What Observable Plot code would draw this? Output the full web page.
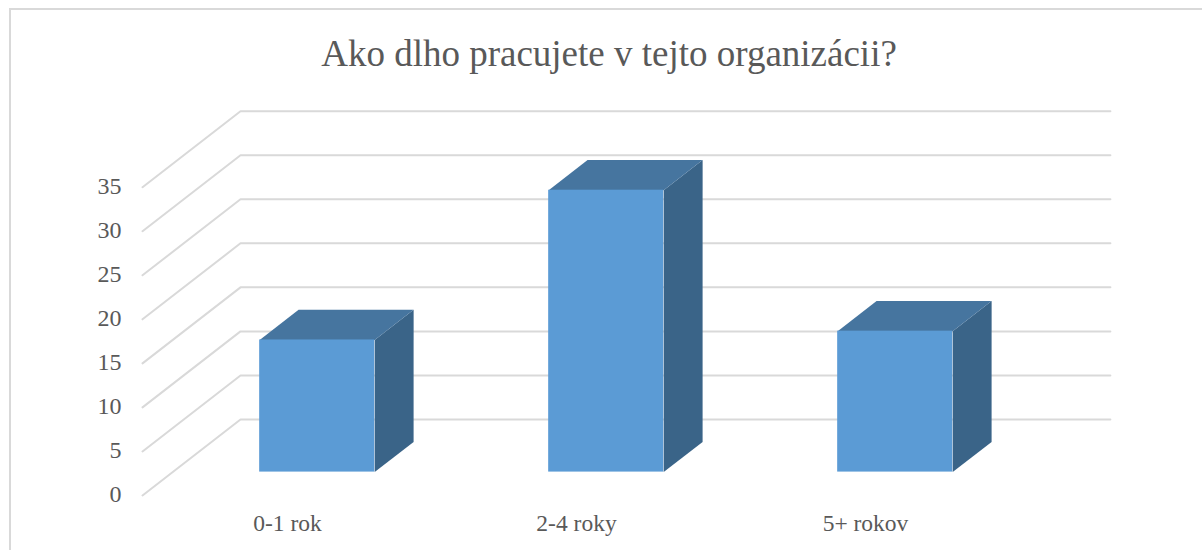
<!DOCTYPE html>
<html>
<head>
<meta charset="utf-8">
<script src="https://cdn.jsdelivr.net/npm/d3@7"></script>
<script src="https://cdn.jsdelivr.net/npm/@observablehq/plot@0.6"></script>
<style>
html,body{margin:0;padding:0;background:#fff;overflow:hidden}
#page{position:relative;width:1202px;height:550px;overflow:hidden;font-family:"Liberation Serif",serif}
#frame{position:absolute;left:9px;top:8px;width:1300px;height:700px;border:2px solid #d9d9d9;box-sizing:border-box}
#title{position:absolute;left:0;top:31px;width:1218px;text-align:center;font-size:37px;line-height:46px;color:#595959}
#chart{position:absolute;left:0;top:100px}
#chart svg{background:transparent;display:block}
</style>
</head>
<body>
<div id="page">
<div id="frame"></div>
<div id="title">Ako dlho pracujete v tejto organizácii?</div>
<div id="chart"></div>
</div>
<script>
const categories = ["0-1 rok", "2-4 roky", "5+ rokov"];
const values = [15, 32, 16];
const tickValues = [0, 5, 10, 15, 20, 25, 30, 35];

// oblique projection: one unit of depth moves a point right and up in data units
const depthX = 98 / 289;
const depthY = 8.63;
const barWidth = 0.398;
const depthFront = 0.308;
const depthBack = 0.705;
const gridEnd = 3.01;

const px = (u, d) => u + d * depthX;
const py = (v, d) => v + d * depthY;

const grid = [];
tickValues.forEach(t => {
  grid.push({x: px(0, 0), y: py(t, 0), z: t});
  grid.push({x: px(0, 1), y: py(t, 1), z: t});
  grid.push({x: px(gridEnd, 1), y: py(t, 1), z: t});
});

const front = categories.map((c, i) => ({
  x1: px(i + 0.5 - barWidth / 2, depthFront),
  x2: px(i + 0.5 + barWidth / 2, depthFront),
  y1: py(0, depthFront),
  y2: py(values[i], depthFront)
}));

const topFace = [], sideFace = [];
categories.forEach((c, i) => {
  const l = i + 0.5 - barWidth / 2, r = i + 0.5 + barWidth / 2, v = values[i];
  [[l, v, depthFront], [r, v, depthFront], [r, v, depthBack], [l, v, depthBack]]
    .forEach(([u, w, d]) => topFace.push({x: px(u, d), y: py(w, d), z: c}));
  [[r, 0, depthFront], [r, v, depthFront], [r, v, depthBack], [r, 0, depthBack]]
    .forEach(([u, w, d]) => sideFace.push({x: px(u, d), y: py(w, d), z: c}));
});

const plot = Plot.plot({
  width: 1202,
  height: 450,
  marginLeft: 142,
  marginRight: 193,
  marginTop: 86.7,
  marginBottom: 55,
  x: {domain: [0, 3], range: [142, 1009]},
  y: {domain: [0, 35], range: [395, 86.7]},
  style: {fontFamily: "Liberation Serif", background: "transparent", overflow: "visible"},
  marks: [
    Plot.line(grid, {x: "x", y: "y", z: "z", stroke: "#d9d9d9", strokeWidth: 2, curve: "linear"}),
    Plot.line(sideFace, {x: "x", y: "y", z: "z", fill: "#3a6488", stroke: "none"}),
    Plot.line(topFace, {x: "x", y: "y", z: "z", fill: "#46759f", stroke: "none"}),
    Plot.rect(front, {x1: "x1", x2: "x2", y1: "y1", y2: "y2", fill: "#5b9bd5"}),
    Plot.axisY({ticks: tickValues, tickSize: 0, tickPadding: 21, dy: -1, fontSize: 24, color: "#595959", label: null, fill: "#595959"}),
    Plot.axisX({ticks: categories.map((c, i) => i + 0.5), tickFormat: d => categories[d - 0.5], tickSize: 0, tickPadding: 19, dx: 0.5, fontSize: 23.5, fill: "#595959", label: null})
  ]
});
document.getElementById("chart").appendChild(plot);
</script>
</body>
</html>
